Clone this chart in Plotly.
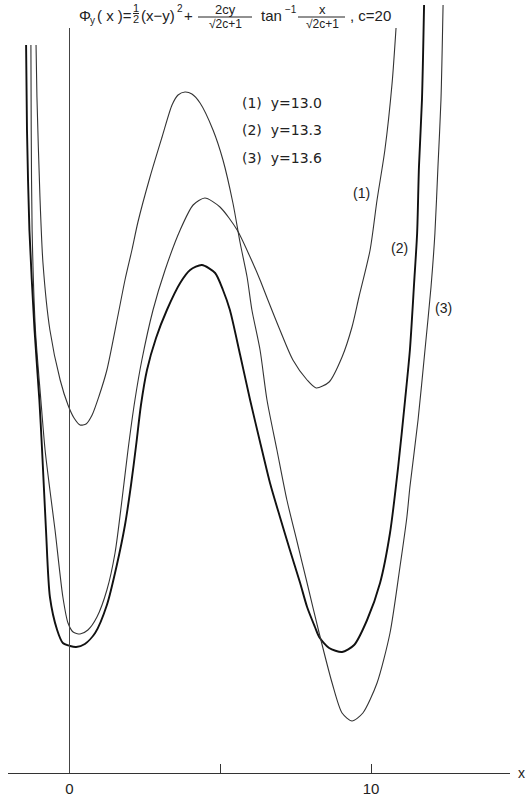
import plotly.graph_objects as go

# Phi_y(x) for three values of y (c = 20); curves are offset vertically for display
x1 = [-1.28, -1.27, -1.24, -1.13, -0.95, -0.81, -0.65, -0.48, -0.22, -0.05, 0.12, 0.35, 0.61, 0.91,
      1.24, 1.51, 1.74, 1.94, 2.17, 2.40, 2.77, 3.17, 3.67, 4.10, 4.49, 4.99, 5.56, 5.99, 6.32, 6.58,
      6.98, 7.41, 7.88, 8.18, 8.61, 9.04, 9.37, 9.60, 9.97, 10.20, 10.46, 10.70, 10.83]
y1 = [72.8, 64.3, 54.3, 44.3, 37.3, 32.3, 28.3, 24.3, 17.6, 15.0, 14.1, 13.9, 14.3, 15.6,
      18.3, 22.0, 27.3, 32.3, 37.3, 41.3, 46.3, 50.3, 54.3, 56.8, 57.5, 56.6, 54.3, 51.6, 49.3, 47.3,
      44.3, 41.3, 39.3, 38.5, 39.1, 41.6, 44.6, 47.6, 52.3, 57.3, 62.3, 69.0, 74.5]

x2 = [-1.44, -1.41, -1.33, -1.16, -1.00, -0.91, -0.78, -0.65, -0.41, -0.22, 0.02, 0.22, 0.51, 0.85,
      1.24, 1.57, 1.84, 2.04, 2.21, 2.37, 2.57, 2.87, 3.23, 3.67, 4.00, 4.39, 4.83, 5.09, 5.32, 5.66,
      5.99, 6.32, 6.65, 6.98, 7.31, 7.65, 7.88, 8.14, 8.28, 8.61, 9.04, 9.44, 9.87, 10.30, 10.63,
      10.90, 11.13, 11.29, 11.43, 11.53, 11.59, 11.69, 11.76]
y2 = [72.8, 64.3, 54.3, 44.3, 37.3, 32.3, 24.3, 17.6, 14.3, 13.0, 12.7, 12.6, 12.9, 14.0,
      16.8, 20.8, 24.8, 28.8, 32.8, 36.8, 40.3, 43.5, 46.3, 49.0, 50.3, 50.8, 50.0, 48.3, 46.3, 41.8,
      37.3, 33.1, 29.0, 25.6, 22.3, 19.0, 16.6, 14.6, 13.6, 12.5, 12.1, 12.8, 15.3, 19.0, 24.0,
      30.6, 37.3, 42.3, 49.0, 54.0, 60.6, 67.3, 76.8]

x3 = [-1.11, -1.08, -0.98, -0.88, -0.65, -0.31, -0.05, 0.15, 0.35, 0.55, 0.75, 0.98, 1.24, 1.61, 1.84,
      2.07, 2.27, 2.67, 3.07, 3.40, 3.60, 3.83, 4.06, 4.33, 4.76, 5.09, 5.42, 5.66, 5.89, 6.05, 6.32,
      6.55, 6.88, 7.21, 7.55, 7.88, 8.28, 8.71, 9.04, 9.37, 9.73, 10.20, 10.63, 10.96, 11.19, 11.29,
      11.56, 11.79, 11.99, 12.12, 12.22, 12.32, 12.39]
y3 = [72.8, 67.6, 57.6, 51.0, 44.3, 39.3, 36.8, 35.5, 34.8, 34.9, 35.8, 37.7, 40.3, 45.8, 49.3,
      52.3, 55.1, 59.6, 63.6, 66.8, 67.8, 68.1, 67.9, 67.0, 64.3, 61.3, 57.0, 53.0, 49.6, 46.3, 42.3,
      37.3, 32.3, 27.3, 23.1, 19.0, 14.0, 9.0, 6.0, 5.2, 6.0, 9.0, 14.0, 20.6, 25.6, 28.6,
      35.3, 42.3, 48.6, 54.0, 60.6, 67.3, 76.8]

curve_labels = ["(1)", "(2)", "(3)"]
label_x = [9.67, 10.93, 12.42]
label_y = [58.0, 52.5, 46.5]
legend_lines = ["(1)  y=13.0", "(2)  y=13.3", "(3)  y=13.6"]

x_tickvals = [0, 10]
x_ticktext = ["0", "10"]
x_minor_ticks = [5]

W, H = 526, 798
ML, MR, MT, MB = 8, 16, 0, 25
PW, PH = W - ML - MR, H - MT - MB
FONT = "Liberation Sans"
INK = "#222"


def fx(px):
    return (px - ML) / PW


def fy(py):
    return (H - MB - py) / PH


fig = go.Figure()
for xs, ys, col, w in [(x1, y1, "#333", 1.1), (x2, y2, "#111", 1.9), (x3, y3, "#333", 1.1)]:
    fig.add_trace(go.Scatter(x=xs, y=ys, mode="lines",
                             line=dict(color=col, width=w, shape="spline", smoothing=0.7),
                             showlegend=False, hoverinfo="skip"))

# vertical axis through x = 0
fig.add_shape(type="line", x0=0, x1=0, y0=0, y1=74.5, xref="x", yref="y",
              line=dict(color="#444", width=1))

annots = []
# labels next to the curves
for t, lx, ly in zip(curve_labels, label_x, label_y):
    annots.append(dict(x=lx, y=ly, xref="x", yref="y", text=t, showarrow=False,
                       font=dict(family=FONT, size=14, color=INK)))

# parameter list
for i, t in enumerate(legend_lines):
    annots.append(dict(x=fx(240), y=fy(93 + 27.5 * i), xref="paper", yref="paper", text=t,
                       showarrow=False, xanchor="left",
                       font=dict(family="DejaVu Sans", size=14, color=INK)))


# formula heading, assembled piece by piece
def txt(px, py, s, size=15, anchor="left"):
    annots.append(dict(x=fx(px), y=fy(py), xref="paper", yref="paper", text=s, showarrow=False,
                       xanchor=anchor, yanchor="middle", font=dict(family=FONT, size=size, color=INK)))


def bar(pxa, pxb, py):
    fig.add_shape(type="line", xref="paper", yref="paper", x0=fx(pxa), x1=fx(pxb), y0=fy(py), y1=fy(py),
                  line=dict(color=INK, width=1))


txt(77, 15, "Φ")
txt(88, 20, "y", 10)
txt(95, 15, "( x )=")
txt(136, 8, "1", 11, "center")
bar(133, 139, 13.5)
txt(136, 19, "2", 11, "center")
txt(139, 15, "(x−y)")
txt(175, 8, "2", 10)
txt(182, 15, "+")
txt(225, 9, "2cy", 13, "center")
bar(198, 252, 17)
txt(225, 24, "√2c+1", 12, "center")
txt(259, 15, "tan")
txt(283, 10, "−1", 10)
txt(322, 10, "x", 13, "center")
bar(298, 345, 17)
txt(322, 24, "√2c+1", 12, "center")
txt(348, 15, ", c=20", 15)

# axis arrow label
annots.append(dict(x=fx(521), y=fy(773), xref="paper", yref="paper", text="x", showarrow=False,
                   xanchor="center", yanchor="middle", font=dict(family=FONT, size=14, color=INK)))

fig.update_layout(
    width=W, height=H,
    margin=dict(l=ML, r=MR, t=MT, b=MB),
    paper_bgcolor="white", plot_bgcolor="white",
    annotations=annots,
    xaxis=dict(range=[-2.04, 14.61], showgrid=False, zeroline=False, showline=True,
               linecolor="#333", linewidth=1.2, ticks="inside", ticklen=9, tickwidth=1,
               tickcolor="#333", tickmode="array", tickvals=x_tickvals, ticktext=x_ticktext,
               tickfont=dict(family=FONT, size=15, color=INK), ticklabelstandoff=2,
               minor=dict(tickmode="array", tickvals=x_minor_ticks, ticks="inside", ticklen=9,
                          tickwidth=1, tickcolor="#333", showgrid=False)),
    yaxis=dict(range=[0, 77.3], visible=False),
)

fig.write_html("out.html")
